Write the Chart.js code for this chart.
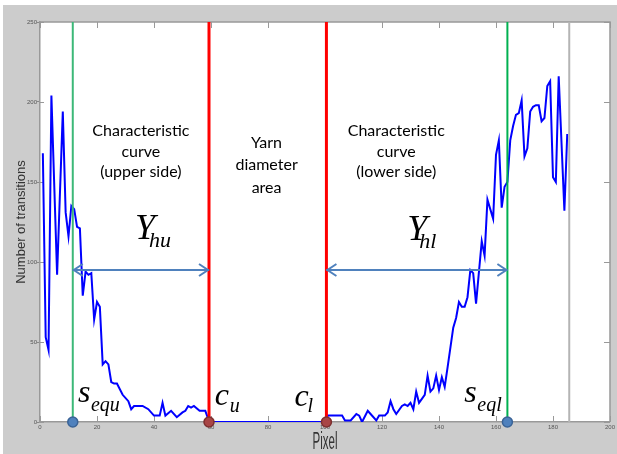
<!DOCTYPE html>
<html>
<head>
<meta charset="utf-8">
<script src="https://cdn.jsdelivr.net/npm/chart.js@4.4.1/dist/chart.umd.min.js"></script>
<style>
  html, body { margin: 0; padding: 0; background: #fff; }
</style>
</head>
<body>
<canvas id="chart" width="617" height="454"></canvas>
<script>
// pixel position along the profile and number of transitions
const pixelX = [1, 2, 3, 4, 6, 8, 9, 10, 11, 12, 13, 14, 15, 16, 17, 18, 19, 20, 21, 22, 23, 24, 25, 26, 27, 29,
  31, 32, 33, 36, 38, 40, 42, 43, 44, 46, 48, 50, 51, 52, 53, 54, 56, 58, 59, 60, 100, 101, 102, 106, 107, 109,
  111, 112, 113, 115, 116, 118, 119, 121, 122, 123, 124, 125, 127, 128, 129, 130, 131, 132, 133, 135, 136, 137,
  138, 139, 140, 141, 142, 143, 145, 146, 147, 148, 149, 150, 151, 152, 153, 155, 156, 157, 159, 160, 161, 162,
  163, 164, 165, 166, 167, 168, 169, 170, 171, 172, 173, 174, 175, 176, 177, 178, 179, 180, 181, 182, 184, 185];
const transitions = [168, 53, 45, 204, 92, 194, 131, 116, 135, 133, 122, 121, 79, 94, 92, 93, 64, 75, 72, 36, 38, 36, 25, 24, 24, 17,
  13, 8, 10, 10, 8, 4, 4, 12, 4, 7, 3, 6, 7, 10, 9, 10, 7, 7, 2, 0, 0, 4, 4, 4, 1, 1,
  5, 4, 0, 7, 5, 1, 4, 4, 6, 13, 8, 5, 10, 11, 10, 12, 8, 19, 12, 17, 29, 19,
  21, 29, 20, 28, 22, 34, 59, 65, 75, 72, 72, 78, 95, 93, 74, 113, 104, 139, 127, 167, 176, 134,
  147, 150, 176, 185, 192, 193, 201, 166, 171, 194, 197, 198, 198, 188, 190, 210, 213, 153, 150, 216, 132, 180];

// boundary positions (s_equ, c_u, c_l, s_eql) and end of profile
const markerNames = ['s_equ', 'c_u', 'c_l', 's_eql'];
const markerX = [11.5, 59.3, 100.5, 164];
const profileEnd = 185.7;
const arrowLevel = 95;

const xTicks = [0, 20, 40, 60, 80, 100, 120, 140, 160, 180, 200];
const yTicks = [0, 50, 100, 150, 200, 250];

const blockText = [['Characteristic', 'curve', '(upper side)'], ['Yarn', 'diameter', 'area'], ['Characteristic', 'curve', '(lower side)']];
const blockX = [35.4, 79.5, 125];
const blockY = [[181.8, 168.6, 156.2], [174.3, 160.5, 146.2], [181.8, 168.6, 156.2]];

const mathLabels = [
  { main: 'Y', sub: 'hu', x: 33.3, y: 114.3, dx: 14, dy: 8, size: 36, subSize: 22 },
  { main: 'Y', sub: 'hl', x: 128.9, y: 113.7, dx: 12, dy: 8, size: 36, subSize: 22 },
  { main: 's', sub: 'equ', x: 13.3, y: 12.5, dx: 13, dy: 9, size: 32, subSize: 20 },
  { main: 'c', sub: 'u', x: 61.3, y: 10.6, dx: 15, dy: 7, size: 32, subSize: 20 },
  { main: 'c', sub: 'l', x: 89.3, y: 10, dx: 13, dy: 6, size: 32, subSize: 20 },
  { main: 's', sub: 'eql', x: 148.9, y: 12.5, dx: 13, dy: 9, size: 32, subSize: 20 }
];

const xTitle = 'Pixel';

const vline = (x) => [{ x: x, y: 0 }, { x: x, y: 250 }];

const decor = {
  id: 'decor',
  beforeDraw(chart) {
    const c = chart.ctx, a = chart.chartArea;
    c.save();
    c.fillStyle = '#cccccc';
    c.fillRect(3, 5, chart.width - 3, chart.height - 5);
    c.fillStyle = '#ffffff';
    c.fillRect(a.left, a.top, a.right - a.left, a.bottom - a.top);
    c.restore();
  },
  beforeDatasetsDraw(chart) {
    const c = chart.ctx, a = chart.chartArea;
    const sx = chart.scales.x, sy = chart.scales.y;
    c.save();
    c.strokeStyle = '#999999';
    c.lineWidth = 1.5;
    c.beginPath();
    c.moveTo(a.left, a.top); c.lineTo(a.right, a.top); c.lineTo(a.right, a.bottom);
    c.stroke();
    c.lineWidth = 1;
    c.beginPath();
    xTicks.forEach(v => {
      const px = Math.round(sx.getPixelForValue(v)) + 0.5;
      c.moveTo(px, a.bottom); c.lineTo(px, a.bottom - 6);
      c.moveTo(px, a.top); c.lineTo(px, a.top + 6);
    });
    yTicks.forEach(v => {
      const py = Math.round(sy.getPixelForValue(v)) + 0.5;
      c.moveTo(a.left, py); c.lineTo(a.left + 4, py);
      c.moveTo(a.right, py); c.lineTo(a.right - 6, py);
    });
    c.stroke();
    c.restore();
  },
  afterDatasetsDraw(chart) {
    const c = chart.ctx, a = chart.chartArea;
    const sx = chart.scales.x, sy = chart.scales.y;
    c.save();
    // arrow heads
    c.strokeStyle = '#4f81bd';
    c.lineWidth = 2;
    [5, 6].forEach(i => {
      const pts = chart.getDatasetMeta(i).data;
      const p0 = pts[0], p1 = pts[1];
      c.beginPath();
      c.moveTo(p0.x + 10, p0.y - 6); c.lineTo(p0.x + 1, p0.y); c.lineTo(p0.x + 10, p0.y + 6);
      c.moveTo(p1.x - 10, p1.y - 6); c.lineTo(p1.x - 1, p1.y); c.lineTo(p1.x - 10, p1.y + 6);
      c.stroke();
    });
    // text blocks
    c.fillStyle = '#000000';
    c.textAlign = 'center';
    c.textBaseline = 'middle';
    c.font = '16px Lato';
    blockText.forEach((lines, b) => {
      lines.forEach((t, k) => {
        c.fillText(t, sx.getPixelForValue(blockX[b]), sy.getPixelForValue(blockY[b][k]));
      });
    });
    // symbols
    c.textAlign = 'left';
    c.textBaseline = 'alphabetic';
    mathLabels.forEach(m => {
      const px = sx.getPixelForValue(m.x), py = sy.getPixelForValue(m.y);
      c.font = 'italic ' + m.size + 'px "Liberation Serif"';
      c.fillText(m.main, px, py);
      c.font = 'italic ' + m.subSize + 'px "Liberation Serif"';
      c.fillText(m.sub, px + m.dx, py + m.dy);
    });
    // condensed x axis title
    c.fillStyle = '#333333';
    c.textAlign = 'center';
    c.textBaseline = 'middle';
    c.font = '23px "Liberation Sans"';
    c.translate((a.left + a.right) / 2, 443);
    c.scale(0.5, 1);
    c.fillText(xTitle, 0, 0);
    c.restore();
  }
};

const tickFont = { family: '"Liberation Sans Narrow", "Liberation Sans", Arial', size: 6 };

new Chart(document.getElementById('chart'), {
  type: 'scatter',
  data: {
    datasets: [
      { label: 'transitions', data: pixelX.map((x, i) => ({ x: x, y: transitions[i] })), showLine: true,
        borderColor: '#0000ff', borderWidth: 2, pointRadius: 0, order: 5 },
      { data: vline(markerX[0]), showLine: true, borderColor: '#3cb878', borderWidth: 2, pointRadius: 0, order: 4 },
      { data: vline(markerX[3]), showLine: true, borderColor: '#00b050', borderWidth: 2, pointRadius: 0, order: 4 },
      { data: vline(markerX[1]), showLine: true, borderColor: '#ff0000', borderWidth: 3, pointRadius: 0, order: 4 },
      { data: vline(markerX[2]), showLine: true, borderColor: '#ff0000', borderWidth: 3, pointRadius: 0, order: 4 },
      { data: [{ x: markerX[0], y: arrowLevel }, { x: markerX[1], y: arrowLevel }], showLine: true,
        borderColor: '#4f81bd', borderWidth: 2, pointRadius: 0, order: 2 },
      { data: [{ x: markerX[2], y: arrowLevel }, { x: markerX[3], y: arrowLevel }], showLine: true,
        borderColor: '#4f81bd', borderWidth: 2, pointRadius: 0, order: 2 },
      { data: vline(profileEnd), showLine: true, borderColor: '#b4b4b4', borderWidth: 2, pointRadius: 0, order: 4 },
      { label: 'markers', data: markerX.map(x => ({ x: x, y: 0 })), showLine: false, clip: false,
        pointRadius: 5, borderWidth: 1.5,
        backgroundColor: ['#4f81bd', '#a84545', '#a84545', '#4f81bd'],
        borderColor: ['#3a6396', '#7d2f2f', '#7d2f2f', '#3a6396'], order: 1 }
    ]
  },
  options: {
    responsive: false,
    animation: false,
    layout: { padding: { top: 22, right: 6, left: 0, bottom: 0 } },
    plugins: { legend: { display: false }, tooltip: { enabled: false } },
    scales: {
      x: {
        type: 'linear', min: 0, max: 200,
        afterFit: s => { s.height = 32; },
        ticks: { stepSize: 20, font: tickFont, color: '#555', padding: 2, maxRotation: 0 },
        grid: { drawOnChartArea: false, drawTicks: false },
        border: { color: '#999', width: 1.5 },
        title: { display: false }
      },
      y: {
        min: 0, max: 250,
        afterFit: s => { s.width = 40; },
        ticks: { stepSize: 50, font: tickFont, color: '#555', padding: 0 },
        grid: { drawOnChartArea: false, drawTicks: true, tickLength: 3, color: '#888' },
        border: { color: '#999', width: 1.5 },
        title: { display: true, text: 'Number of transitions', color: '#333',
          font: { family: '"Liberation Sans", Arial', size: 13, lineHeight: 1.2 },
          padding: { top: 14, bottom: 0 } }
      }
    }
  },
  plugins: [decor]
});
</script>
</body>
</html>
